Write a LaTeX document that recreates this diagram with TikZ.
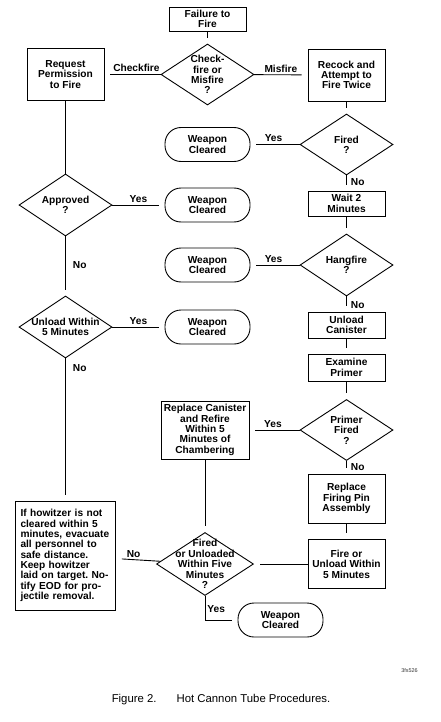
\documentclass[tikz,border=0pt]{standalone}
\usepackage{fontspec}
\setmainfont{Liberation Sans}
\usepackage{tikz}
\usetikzlibrary{
  positioning,
  shapes.geometric
}
\frenchspacing
\newcommand{\chartfont}{\bfseries\fontsize{10.2}{10.4}\selectfont}

\begin{document}
\begin{tikzpicture}[
  x=1bp, y=-1bp,
  % Node styles
  process/.style={
    rectangle,
    draw=black,
    line width=0.9bp,
    minimum width=77bp,
    inner sep=2bp,
    font=\chartfont,
    align=center,
  },
  terminal/.style={
    rectangle,
    draw=black,
    line width=0.9bp,
    rounded corners=16bp,
    minimum width=85bp,
    minimum height=34bp,
    font=\chartfont,
    align=center,
  },
  decision/.style={
    diamond,
    draw=black,
    line width=0.9bp,
    minimum width=93bp,
    minimum height=61bp,
    inner sep=0pt,
  },
  dtext/.style={
    font=\chartfont,
    align=center,
    inner sep=0pt,
  },
  flow/.style={
    line width=0.9bp,
    shorten >=6bp,
  },
  answer/.style={
    font=\chartfont,
    inner sep=2bp,
  },
]
\useasboundingbox (0,0) rectangle (441,722);

% ── Top: start and first decision ──
\node[process, minimum height=24bp] (failure) at (207.5, 19) {Failure to\\Fire};
\node[decision, label={[dtext]center:Check-\\fire or\\Misfire\\?}] (checkfire) at (207.5, 74.5) {};
\node[process, minimum height=52bp] (request) at (65.5, 74.5) {Request\\Permission\\to Fire};
\node[process, minimum height=52bp] (recock) at (346.5, 75) {Recock and\\Attempt to\\Fire Twice};

% ── Right column ──
\node[decision, label={[dtext]center:Fired\\?}] (fired) at (346.5, 144.5) {};
\node[process, minimum height=25bp] (wait) at (346.5, 203.5) {Wait 2\\Minutes};
\node[decision, minimum height=62bp, label={[dtext]center:Hangfire\\?}] (hangfire) at (346.5, 265) {};
\node[process, minimum height=26bp] (unloadcan) at (346.5, 325) {Unload\\Canister};
\node[process, minimum height=27bp] (examine) at (346.5, 367.5) {Examine\\Primer};
\node[decision, label={[dtext]center:Primer\\Fired\\?}] (primer) at (346.5, 430) {};
\node[process, minimum height=49bp] (firingpin) at (346.5, 498.5) {Replace\\Firing Pin\\Assembly};
\node[process, minimum height=49bp] (fireunload) at (346.5, 564) {Fire or\\Unload Within\\5 Minutes};

% ── Middle column ──
\node[terminal] (cleared1) at (207.5, 144.5) {Weapon\\Cleared};
\node[terminal] (cleared2) at (207.5, 205) {Weapon\\Cleared};
\node[terminal] (cleared3) at (207.5, 265) {Weapon\\Cleared};
\node[terminal] (cleared4) at (207.5, 327) {Weapon\\Cleared};
\node[process, minimum width=88bp, minimum height=58bp] (replacecan) at (205, 430) {Replace Canister\\and Refire\\Within 5\\Minutes of\\Chambering};
\node[decision, minimum width=97bp, minimum height=63bp, label={[dtext]center:Fired\\or Unloaded\\Within Five\\Minutes\\?}] (final) at (205, 564) {};
\node[terminal] (cleared5) at (280.5, 620) {Weapon\\Cleared};

% ── Left column ──
\node[decision, minimum height=62bp, label={[dtext]center:Approved\\?}] (approved) at (65.5, 205) {};
\node[decision, minimum height=62bp, label={[dtext]center:Unload Within\\5 Minutes}] (unload5) at (65.5, 327) {};
\node[process, minimum width=100bp, minimum height=109bp, text width=90bp, inner xsep=5bp, align=left] (howitzer) at (65.5, 555.5) {If howitzer is not\\cleared within 5\\minutes, evacuate\\all personnel to\\safe distance.\\Keep howitzer\\laid on target. No-\\tify EOD for pro-\\jectile removal.};

% ── Connectors ──
\draw[flow] (failure) -- (checkfire);
\draw[flow] (checkfire) -- (request)
  node[answer, pos=0.43, above] {Checkfire};
\draw[flow] (checkfire) -- (recock)
  node[answer, pos=0.5, above] {Misfire};

% Right column
\draw[flow] (recock) -- (fired);
\draw[flow] (fired) -- (cleared1)
  node[answer, pos=0.53, above] {Yes};
\draw[flow] (fired) -- (wait)
  node[answer, pos=0.45, right, xshift=2bp] {No};
\draw[flow] (wait) -- (hangfire);
\draw[flow] (hangfire) -- (cleared3)
  node[answer, pos=0.53, above] {Yes};
\draw[flow] (hangfire) -- (unloadcan)
  node[answer, pos=0.55, right, xshift=2bp] {No};
\draw[flow] (unloadcan) -- (examine);
\draw[flow] (examine) -- (primer);
\draw[flow] (primer) -- (replacecan)
  node[answer, pos=0.53, above] {Yes};
\draw[flow] (primer) -- (firingpin)
  node[answer, pos=0.45, right, xshift=2bp] {No};
\draw[flow] (firingpin) -- (fireunload);
\draw[flow] (fireunload) -- (final);

% Left column
\draw[line width=0.9bp] (request) -- (approved);
\draw[flow] (approved) -- (cleared2)
  node[answer, pos=0.5, above] {Yes};
\draw[flow] (approved) -- (unload5)
  node[answer, pos=0.48, right, xshift=5bp] {No};
\draw[flow] (unload5) -- (cleared4)
  node[answer, pos=0.5, above] {Yes};
\draw[flow] (unload5) -- (howitzer)
  node[answer, pos=0.07, right, xshift=5bp] {No};

% Bottom
\draw[flow] (replacecan) -- (final);
\draw[flow] (final) -- (howitzer)
  node[answer, pos=0.6, above] {No};
\draw[flow] (final) |- (cleared5)
  node[answer, pos=0.28, right] {Yes};

% ── Figure id and caption ──
\node[font=\fontsize{5.5}{6}\selectfont, text=black!80] (figid) at (409.5, 671) {3fs526};
\node[font=\fontsize{11.4}{13}\selectfont] (caption) at (221, 700) {Figure 2.\hspace{20bp}Hot Cannon Tube Procedures.};

\end{tikzpicture}
\end{document}
